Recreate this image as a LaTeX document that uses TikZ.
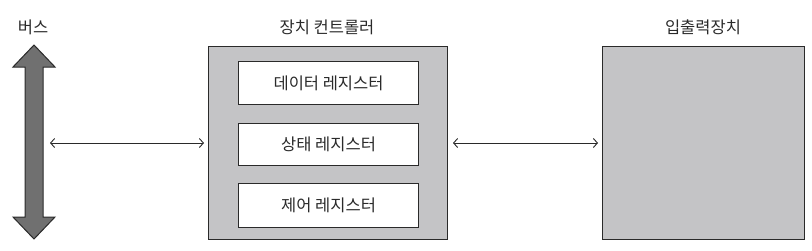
\documentclass[tikz,border=0pt]{standalone}
\usepackage{fontspec}
\newfontfamily\kr{Noto Sans CJK KR}
\usetikzlibrary{arrows.meta}
\definecolor{boxgray}{HTML}{C4C4C6}
\definecolor{busgray}{HTML}{707070}
\definecolor{ink}{HTML}{2A2A2A}
\tikzset{
  title/.style={font=\kr\fontsize{16.5}{18}\selectfont, text=ink, inner sep=0pt},
  outerbox/.style={draw=ink, line width=1.2pt, fill=boxgray},
  regbox/.style={draw=ink, line width=1.1pt, fill=white, font=\kr\fontsize{16.5}{18}\selectfont, text=ink},
  link/.style={draw=ink, line width=0.9pt, {Straight Barb[length=4pt,width=9pt]}-{Straight Barb[length=4pt,width=9pt]}}
}
\begin{document}
\begin{tikzpicture}[x=1pt,y=-1pt]
\useasboundingbox (0,0) rectangle (812,250);
% bus
\draw[fill=busgray, draw=ink, line width=1pt, line join=miter]
  (34,45) -- (55,67) -- (43,67) -- (43,217) -- (55,217) -- (34,239)
  -- (13,217) -- (25,217) -- (25,67) -- (13,67) -- cycle;
\node[title] (buslabel) at (33,27) {버스};
% controller
\node[outerbox, minimum width=239pt, minimum height=193pt, anchor=north west] (ctrl) at (208,46) {};
\node[title] (ctrllabel) at (327,27) {장치 컨트롤러};
\node[regbox, minimum width=180pt, minimum height=43pt, anchor=north west] (r1) at (238,61) {데이터 레지스터};
\node[regbox, minimum width=180pt, minimum height=42pt, anchor=north west] (r2) at (238,123) {상태 레지스터};
\node[regbox, minimum width=180pt, minimum height=44pt, anchor=north west] (r3) at (238,183) {제어 레지스터};
% io device
\node[outerbox, minimum width=202pt, minimum height=193pt, anchor=north west] (io) at (602,46) {};
\node[title] (iolabel) at (703,27) {입출력장치};
% links
\coordinate (a1) at (50,143);
\coordinate (a2) at (204,143);
\coordinate (a3) at (453,143);
\coordinate (a4) at (598,143);
\draw[link] (a1) -- (a2);
\draw[link] (a3) -- (a4);
\end{tikzpicture}
\end{document}
